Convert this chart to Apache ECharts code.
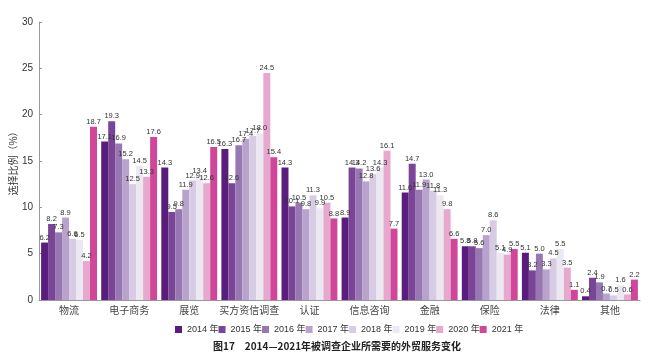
<!DOCTYPE html>
<html><head><meta charset="utf-8">
<script src="https://cdn.jsdelivr.net/npm/echarts@6/dist/echarts.min.js"></script>
<style>html,body{margin:0;padding:0;background:#fff}#c{width:650px;height:357px}</style>
</head><body><div id="c"></div>
<script>
const categories = ['物流','电子商务','展览','买方资信调查','认证','信息咨询','金融','保险','法律','其他'];
const years = ['2014 年','2015 年','2016 年','2017 年','2018 年','2019 年','2020 年','2021 年'];
const y2014 = [6.2,17.1,14.3,16.3,14.3,8.9,11.6,5.8,5.1,0.4];
const y2015 = [8.2,19.3,9.5,12.6,10.1,14.3,14.7,5.8,3.2,2.4];
const y2016 = [7.3,16.9,9.8,16.7,10.5,14.2,11.9,5.6,5.0,1.9];
const y2017 = [8.9,15.2,11.9,17.4,9.8,12.8,13.0,7.0,3.3,0.7];
const y2018 = [6.6,12.5,12.9,17.7,11.3,13.6,11.8,8.6,4.5,0.5];
const y2019 = [6.5,14.5,13.4,18.0,9.9,14.3,11.3,5.1,5.5,1.6];
const y2020 = [4.2,13.3,12.6,24.5,10.5,16.1,9.8,4.9,3.5,0.6];
const y2021 = [18.7,17.6,16.5,15.4,8.8,7.7,6.6,5.5,1.1,2.2];
const yTicks = [0,5,10,15,20,25,30];
const colors = ['#5a1d7d','#7a4597','#9878b2','#b8a3cc','#d8cce4','#ece8f2','#e6a8cc','#d0479a'];
const seriesData = [y2014,y2015,y2016,y2017,y2018,y2019,y2020,y2021];

const chart = echarts.init(document.getElementById('c'));
chart.setOption({
  animation:false,
  color: colors,
  title:{
    text:'图17　2014—2021年被调查企业所需要的外贸服务变化',
    left:208, top:336,
    textStyle:{fontSize:10,fontWeight:'bold',color:'#222',fontFamily:'Noto Sans CJK SC'}
  },
  legend:{
    data: years, top:320, left:170,
    itemWidth:7, itemHeight:7, itemGap:0, icon:'rect',
    textStyle:{fontSize:9,color:'#333',fontFamily:'Liberation Sans, Noto Sans CJK SC'}
  },
  grid:{left:39,right:10,top:22,bottom:57,containLabel:false,outerBoundsMode:'none'},
  xAxis:{
    type:'category', data:categories,
    axisLine:{lineStyle:{color:'#999'}},
    axisTick:{show:false},
    axisLabel:{interval:0,fontSize:10,color:'#444',margin:5,fontFamily:'Noto Sans CJK SC'}
  },
  yAxis:{
    type:'value', min:0, max:30, interval:5,
    name:'选择比例（%）', nameLocation:'middle', nameGap:21, nameRotate:90,
    nameMoveOverlap:false,
    nameTextStyle:{fontSize:10,color:'#333',fontFamily:'Noto Sans CJK SC'},
    axisLine:{show:true,lineStyle:{color:'#999'}},
    axisTick:{show:true,inside:true,length:3,lineStyle:{color:'#999'}},
    splitLine:{show:false},
    axisLabel:{fontSize:10,color:'#333',margin:6,fontFamily:'Liberation Sans',
      formatter:v=>yTicks.includes(v)?String(v):''}
  },
  series: seriesData.map((d,i)=>({
    name: years[i], type:'bar', data:d,
    barGap:'0%', barCategoryGap:'7%',
    itemStyle:{color:colors[i]},
    label:{show:true,position:'top',distance:1,fontSize:7.5,color:'#333',
      fontFamily:'Liberation Sans',formatter:p=>p.value.toFixed(1)}
  }))
});
</script></body></html>
